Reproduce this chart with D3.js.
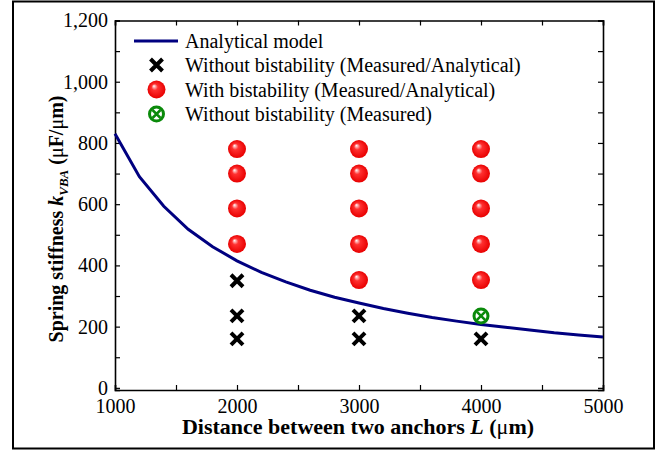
<!DOCTYPE html>
<html>
<head>
<meta charset="utf-8">
<script src="https://cdn.jsdelivr.net/npm/d3@7"></script>
<style>
  body { margin: 0; background: #fff; }
  svg { font-family: "Liberation Serif", "Times New Roman", serif; }
  .tick text { font-family: "Liberation Serif", "Times New Roman", serif; }
</style>
</head>
<body>
<svg id="chart" width="665" height="453"></svg>
<script>
// analytical model curve
let modelL = [1000, 1200, 1400, 1600, 1800, 2000, 2200, 2400, 2600, 2800, 3000,
              3200, 3400, 3600, 3800, 4000, 4200, 4400, 4600, 4800, 5000];
let modelK = [830, 690, 593, 518, 461, 415, 377, 346, 319, 296, 277,
              259, 244, 230, 218, 207, 198, 189, 180, 173, 166];

// without bistability (measured/analytical)
let crossL = [2000, 2000, 2000, 3000, 3000, 4000];
let crossK = [350, 235, 160, 235, 160, 160];

// with bistability (measured/analytical)
let ballL = [2000, 2000, 2000, 2000, 3000, 3000, 3000, 3000, 3000, 4000, 4000, 4000, 4000, 4000];
let ballK = [780, 700, 586, 470, 780, 700, 586, 470, 352, 780, 700, 586, 470, 352];

// without bistability (measured)
let greenL = [4000];
let greenK = [235];

let xTicks = [1000, 2000, 3000, 4000, 5000];
let yTicks = [0, 200, 400, 600, 800, 1000, 1200];

let legendLabels = [
    "Analytical model",
    "Without bistability (Measured/Analytical)",
    "With bistability (Measured/Analytical)",
    "Without bistability (Measured)"
];

function drawChart() {
    let svg = d3.select("#chart");
    let serif = "Liberation Serif";

    // gradient for the shiny red balls
    let defs = svg.append("defs");
    let grad = defs.append("radialGradient")
        .attr("id", "ball")
        .attr("cx", "0.5").attr("cy", "0.5").attr("r", "0.5")
        .attr("fx", "0.35").attr("fy", "0.3");
    grad.append("stop").attr("offset", "0%").attr("stop-color", "#ffffff");
    grad.append("stop").attr("offset", "35%").attr("stop-color", "#ff3030");
    grad.append("stop").attr("offset", "100%").attr("stop-color", "#e80000");

    // outer frame
    svg.append("rect")
        .attr("x", 13).attr("y", 1.5)
        .attr("width", 641).attr("height", 447)
        .attr("fill", "none")
        .attr("stroke", "#000")
        .attr("stroke-width", 2);

    let mLeft = 115, mTop = 20.5, mRight = 603, mBottom = 390;

    let x = d3.scaleLinear().domain([1000, 5000]).range([mLeft, mRight]);
    let y = d3.scaleLinear().domain([-7, 1200]).range([mBottom, mTop]);

    let tickFont = "20px";

    // bottom axis
    let gx = svg.append("g")
        .attr("transform", "translate(0," + mBottom + ")")
        .call(d3.axisBottom(x).tickValues(d3.range(1000, 5001, 500))
            .tickSize(-5).tickPadding(9)
            .tickFormat(d => xTicks.includes(d) ? d : ""));
    gx.attr("font-family", serif);
    gx.selectAll("text")
        .style("font-family", serif)
        .style("font-size", tickFont).attr("fill", "#000");

    // top axis (mirror)
    svg.append("g")
        .attr("transform", "translate(0," + mTop + ")")
        .call(d3.axisTop(x).tickValues(d3.range(1000, 5001, 500))
            .tickSize(-5).tickFormat(""));

    // left axis
    let gy = svg.append("g")
        .attr("transform", "translate(" + mLeft + ",0)")
        .call(d3.axisLeft(y).tickValues(d3.range(0, 1201, 100))
            .tickSize(-5).tickPadding(7)
            .tickFormat(d => yTicks.includes(d) ? d3.format(",")(d) : ""));
    gy.attr("font-family", serif);
    gy.selectAll("text")
        .style("font-family", serif)
        .style("font-size", tickFont).attr("fill", "#000");

    // right axis (mirror)
    svg.append("g")
        .attr("transform", "translate(" + mRight + ",0)")
        .call(d3.axisRight(y).tickValues(d3.range(0, 1201, 100))
            .tickSize(-5).tickFormat(""));

    svg.selectAll(".domain").attr("stroke-width", 1.6);
    svg.selectAll(".tick line").attr("stroke-width", 1.2);

    // analytical model line
    let line = d3.line()
        .x((d, i) => x(modelL[i]))
        .y((d, i) => y(modelK[i]));
    svg.append("path")
        .datum(modelK)
        .attr("d", line)
        .attr("fill", "none")
        .attr("stroke", "#000080")
        .attr("stroke-width", 3);

    // marker helpers
    function drawCross(g, cx, cy) {
        let s = 6;
        g.append("path")
            .attr("d", "M" + (cx - s) + "," + (cy - s) + "L" + (cx + s) + "," + (cy + s) +
                       "M" + (cx - s) + "," + (cy + s) + "L" + (cx + s) + "," + (cy - s))
            .attr("stroke", "#000")
            .attr("stroke-width", 4);
    }
    function drawBall(g, cx, cy) {
        g.append("circle")
            .attr("cx", cx).attr("cy", cy).attr("r", 9)
            .attr("fill", "url(#ball)");
    }
    function drawGreen(g, cx, cy) {
        g.append("circle")
            .attr("cx", cx).attr("cy", cy).attr("r", 7)
            .attr("fill", "#fff")
            .attr("stroke", "#0a8a0a")
            .attr("stroke-width", 3);
        let s = 4;
        g.append("path")
            .attr("d", "M" + (cx - s) + "," + (cy - s) + "L" + (cx + s) + "," + (cy + s) +
                       "M" + (cx - s) + "," + (cy + s) + "L" + (cx + s) + "," + (cy - s))
            .attr("stroke", "#0a8a0a")
            .attr("stroke-width", 2.5);
    }

    let marks = svg.append("g");
    crossL.forEach((l, i) => drawCross(marks, x(l), y(crossK[i])));
    ballL.forEach((l, i) => drawBall(marks, x(l), y(ballK[i])));
    greenL.forEach((l, i) => drawGreen(marks, x(l), y(greenK[i])));

    // legend
    let legend = svg.append("g");
    let rowY = [41, 65, 89.5, 114];
    let symX = 156.5;
    legend.append("line")
        .attr("x1", 134).attr("x2", 178)
        .attr("y1", rowY[0]).attr("y2", rowY[0])
        .attr("stroke", "#000080").attr("stroke-width", 3);
    drawCross(legend, symX, rowY[1]);
    drawBall(legend, symX, rowY[2]);
    drawGreen(legend, symX, rowY[3]);
    legendLabels.forEach((t, i) => {
        legend.append("text")
            .attr("x", 185).attr("y", rowY[i])
            .attr("dy", "0.35em")
            .style("font-size", "20px")
            .text(t);
    });

    // x axis title
    let xt = svg.append("text")
        .attr("x", 358)
        .attr("y", 434)
        .attr("text-anchor", "middle")
        .style("font-size", "22px")
        .style("font-weight", "bold");
    xt.append("tspan").text("Distance between two anchors ");
    xt.append("tspan").style("font-style", "italic").text("L");
    xt.append("tspan").text(" (");
    xt.append("tspan").style("font-weight", "normal").text("μ");
    xt.append("tspan").text("m)");

    // y axis title
    let yt = svg.append("text")
        .attr("transform", "translate(63,219) rotate(-90)")
        .attr("text-anchor", "middle")
        .style("font-size", "20px")
        .style("font-weight", "bold");
    yt.append("tspan").text("Spring stiffness ");
    yt.append("tspan").style("font-style", "italic").text("k");
    yt.append("tspan").style("font-style", "italic").style("font-size", "13px")
        .attr("dy", 5).text("VBA");
    yt.append("tspan").attr("dy", -5).text(" (");
    yt.append("tspan").style("font-weight", "normal").text("μ");
    yt.append("tspan").text("F/");
    yt.append("tspan").style("font-weight", "normal").text("μ");
    yt.append("tspan").text("m)");
}

drawChart();
</script>
</body>
</html>
